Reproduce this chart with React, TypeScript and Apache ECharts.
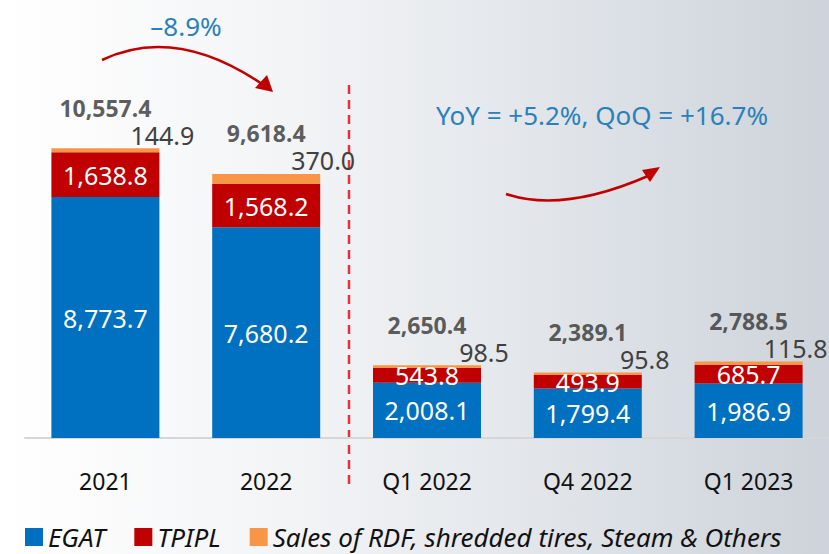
import React, { useEffect, useRef } from "react";
import * as echarts from "echarts";

const categories = ["2021", "2022", "Q1 2022", "Q4 2022", "Q1 2023"];
const egat = [8773.7, 7680.2, 2008.1, 1799.4, 1986.9];
const tpipl = [1638.8, 1568.2, 543.8, 493.9, 685.7];
const others = [144.9, 370.0, 98.5, 95.8, 115.8];
const totals = [10557.4, 9618.4, 2650.4, 2389.1, 2788.5];
const seriesNames = ["EGAT", "TPIPL", "Sales of RDF, shredded tires, Steam & Others"];

const FONT = "'Noto Sans', 'Open Sans', sans-serif";
const fmt = (v: number) =>
  v.toLocaleString("en-US", { minimumFractionDigits: 1, maximumFractionDigits: 1 });

export default function App() {
  const ref = useRef<HTMLDivElement>(null);
  useEffect(() => {
    if (!ref.current) return;
    const chart = echarts.init(ref.current, undefined, { renderer: "svg" });
    const inside = {
      show: true,
      position: "inside",
      color: "#ffffff",
      fontSize: 25,
      fontFamily: FONT,
      formatter: (p: any) => fmt(p.value),
    };
    const othersData = others.map((v, i) =>
      i === others.length - 1 ? { value: v, label: { offset: [47, 0] } } : v
    );
    chart.setOption({
      animation: false,
      backgroundColor: "transparent",
      grid: { left: 25, right: 0, top: 136, bottom: 116 },
      legend: {
        left: 25,
        top: 524,
        icon: "rect",
        itemWidth: 18,
        itemHeight: 18,
        itemGap: 29,
        padding: 0,
        data: seriesNames,
        textStyle: { fontSize: 26, lineHeight: 26, fontStyle: "italic", color: "#111", fontFamily: FONT },
      },
      xAxis: {
        type: "category",
        data: categories,
        axisLine: { show: true, lineStyle: { color: "#d6d6d6", width: 2 } },
        axisTick: { show: false },
        axisLabel: { color: "#111111", fontSize: 23, margin: 31, fontFamily: FONT },
      },
      yAxis: { type: "value", min: 0, max: 11000, show: false, splitLine: { show: false } },
      series: [
        {
          name: seriesNames[0],
          type: "bar",
          stack: "t",
          barWidth: 108,
          data: egat,
          itemStyle: { color: "#0070c0" },
          label: inside,
        },
        {
          name: seriesNames[1],
          type: "bar",
          stack: "t",
          data: tpipl,
          itemStyle: { color: "#c00000" },
          label: inside,
        },
        {
          name: seriesNames[2],
          type: "bar",
          stack: "t",
          data: othersData,
          itemStyle: { color: "#f79646" },
          label: {
            show: true,
            position: "top",
            distance: 1,
            offset: [57, 0],
            color: "#404040",
            fontSize: 25,
            fontFamily: FONT,
            formatter: (p: any) => fmt(p.value),
          },
        },
        {
          name: "Total",
          type: "scatter",
          data: totals,
          symbolSize: 0,
          silent: true,
          label: {
            show: true,
            position: "top",
            distance: 29,
            color: "#333333",
            fontWeight: "bold",
            fontSize: 23,
            fontFamily: FONT,
            formatter: (p: any) => fmt(p.value),
          },
        },
      ],
      graphic: [
        {
          type: "line",
          shape: { x1: 349, y1: 85, x2: 349, y2: 490 },
          style: { stroke: "#e8313a", lineWidth: 2.5, lineDash: [9, 6] },
        },
        {
          type: "bezierCurve",
          shape: { x1: 102, y1: 60, x2: 262, y2: 84, cpx1: 175, cpy1: 25 },
          style: { stroke: "#c00000", lineWidth: 2.5, fill: null },
        },
        {
          type: "polygon",
          shape: { points: [[273, 92], [255, 88], [267, 75]] },
          style: { fill: "#c00000" },
        },
        {
          type: "bezierCurve",
          shape: { x1: 506, y1: 194, x2: 648, y2: 176, cpx1: 563, cpy1: 213 },
          style: { stroke: "#c00000", lineWidth: 2.5, fill: null },
        },
        {
          type: "polygon",
          shape: { points: [[660, 167], [642, 170], [650, 182]] },
          style: { fill: "#c00000" },
        },
        {
          type: "text",
          x: 186,
          y: 26,
          style: {
            text: "–8.9%",
            fill: "#2a80b9",
            fontSize: 26,
            fontFamily: FONT,
            align: "center",
            verticalAlign: "middle",
          },
        },
        {
          type: "text",
          x: 602,
          y: 115,
          style: {
            text: "YoY = +5.2%, QoQ = +16.7%",
            fill: "#2a80b9",
            fontSize: 26,
            fontFamily: FONT,
            align: "center",
            verticalAlign: "middle",
          },
        },
      ],
    });
    return () => chart.dispose();
  }, []);
  return (
    <div
      style={{
        position: "absolute",
        left: 0,
        top: 0,
        width: 829,
        height: 554,
        background: "linear-gradient(90deg, #ffffff 0%, #f3f4f6 35%, #dfe3e8 70%, #cdd3da 100%)",
      }}
    >
      <div ref={ref} style={{ width: 829, height: 554 }} />
    </div>
  );
}
